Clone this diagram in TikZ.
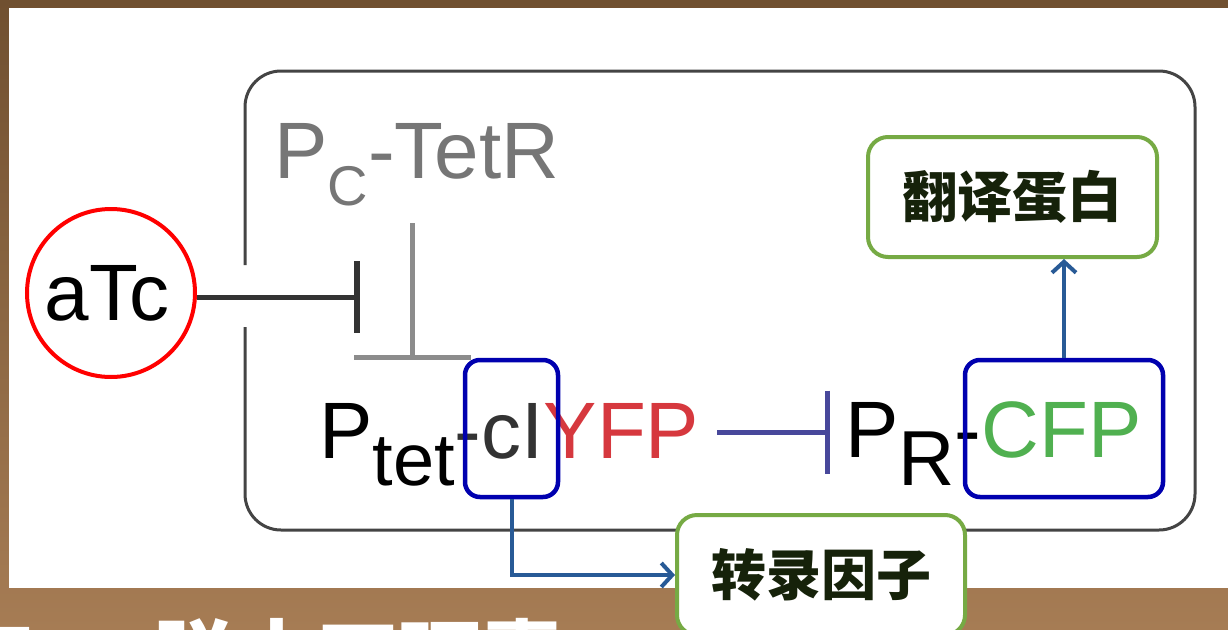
\documentclass[tikz,border=0pt]{standalone}
\usepackage{fontspec}
\setmainfont{Liberation Sans}
\newfontfamily\cjk{Noto Sans CJK SC}
\usetikzlibrary{arrows.meta}
\definecolor{brownA}{RGB}{112,80,48}
\definecolor{brownB}{RGB}{166,124,84}
\definecolor{frame}{RGB}{68,68,68}
\definecolor{darkline}{RGB}{51,51,51}
\definecolor{grayline}{RGB}{140,140,140}
\definecolor{graytext}{RGB}{118,118,118}
\definecolor{yfpred}{RGB}{214,56,62}
\definecolor{cfpgreen}{RGB}{80,176,80}
\definecolor{boxblue}{RGB}{0,0,175}
\definecolor{inhblue}{RGB}{72,72,155}
\definecolor{arrblue}{RGB}{40,90,150}
\definecolor{boxgreen}{RGB}{118,170,68}
\definecolor{cjktext}{RGB}{22,34,10}
\begin{document}
\begin{tikzpicture}[x=1pt,y=-1pt,
  lbl/.style={inner sep=0pt,anchor=base west},
  bluebox/.style={draw=boxblue,line width=4.5pt,rounded corners=15pt,inner sep=0pt},
  greenbox/.style={draw=boxgreen,fill=white,line width=4pt,rounded corners=20pt,inner sep=0pt,text=cjktext,font=\cjk\bfseries\fontsize{55}{55}\selectfont},
  flow/.style={draw=arrblue,line width=4pt,-{Straight Barb[length=11pt,width=24pt,line width=4pt]}},
  inhib/.style={line width=5pt}]
\useasboundingbox (0,0) rectangle (1228,629);
\clip (0,0) rectangle (1228,629);
\shade[top color=brownA,bottom color=brownB] (0,0) rectangle (1228,629);
\fill[white] (9,8) rectangle (1228,588);
% bottom title (cut off)
\node[inner sep=0pt,anchor=base east,text=white,font=\cjk\bfseries\fontsize{82}{82}\selectfont] (btA) at (153,688) {aTc\kern 84pt};
\node[inner sep=0pt,anchor=base west,text=white,font=\cjk\bfseries\fontsize{82}{82}\selectfont] (btB) at (153,688) {脱水四环素};
% outer frame
\draw[frame,line width=3pt,rounded corners=36pt] (245,265) -- (245,71) -- (1195,71) -- (1195,530) -- (245,530) -- (245,327);
% aTc
\node[circle,draw=red,line width=4pt,minimum size=168pt,inner sep=0pt,font=\fontsize{80}{80}\selectfont] (atc) at (111,293) {\hspace{-8pt}aTc};
% labels
\node[lbl,text=graytext,font=\fontsize{80}{80}\selectfont] (pc) at (274,178) {P{\fontsize{56}{56}\selectfont\raisebox{-27pt}{C}}-TetR};
\node[lbl,font=\fontsize{80}{80}\selectfont] (ptet) at (319,458) {P{\fontsize{74}{74}\selectfont\raisebox{-27pt}{tet}}\textcolor{darkline}{-cI}\textcolor{yfpred}{YFP}};
\node[lbl,font=\fontsize{80}{80}\selectfont] (pr) at (845,457) {P{\fontsize{78}{78}\selectfont\raisebox{-28pt}{R}}-\textcolor{cfpgreen}{CFP}};
% boxes
\node[bluebox,minimum width=93pt,minimum height=137pt] (cibox) at (511.5,428.5) {};
\node[bluebox,minimum width=198pt,minimum height=137pt] (cfpbox) at (1064,428.5) {};
\node[greenbox,minimum width=289pt,minimum height=120pt] (fanyi) at (1012.5,197) {翻译蛋白};
\node[greenbox,minimum width=288pt,minimum height=120pt] (zhuanlu) at (821,575) {转录因子};
% connectors
\coordinate (atcbar) at (360,297);
\coordinate (tetrtop) at (412,223);
\coordinate (tetrbar) at (412,360);
\coordinate (yfpend) at (717,432);
\coordinate (prbar) at (830,432);
\draw[inhib,darkline,-{Bar[width=72pt,line width=6pt]}] (atc.east |- atcbar) -- (atcbar);
\draw[inhib,grayline,-{Bar[width=117pt,line width=5pt]}] (tetrtop) -- (tetrbar);
\draw[inhib,inhblue,-{Bar[width=83pt,line width=5pt]}] (yfpend) -- (prbar);
\draw[flow] (cibox.south) |- (zhuanlu.west);
\draw[flow] (cfpbox.north) -- (cfpbox.north |- fanyi.south);
\end{tikzpicture}
\end{document}
